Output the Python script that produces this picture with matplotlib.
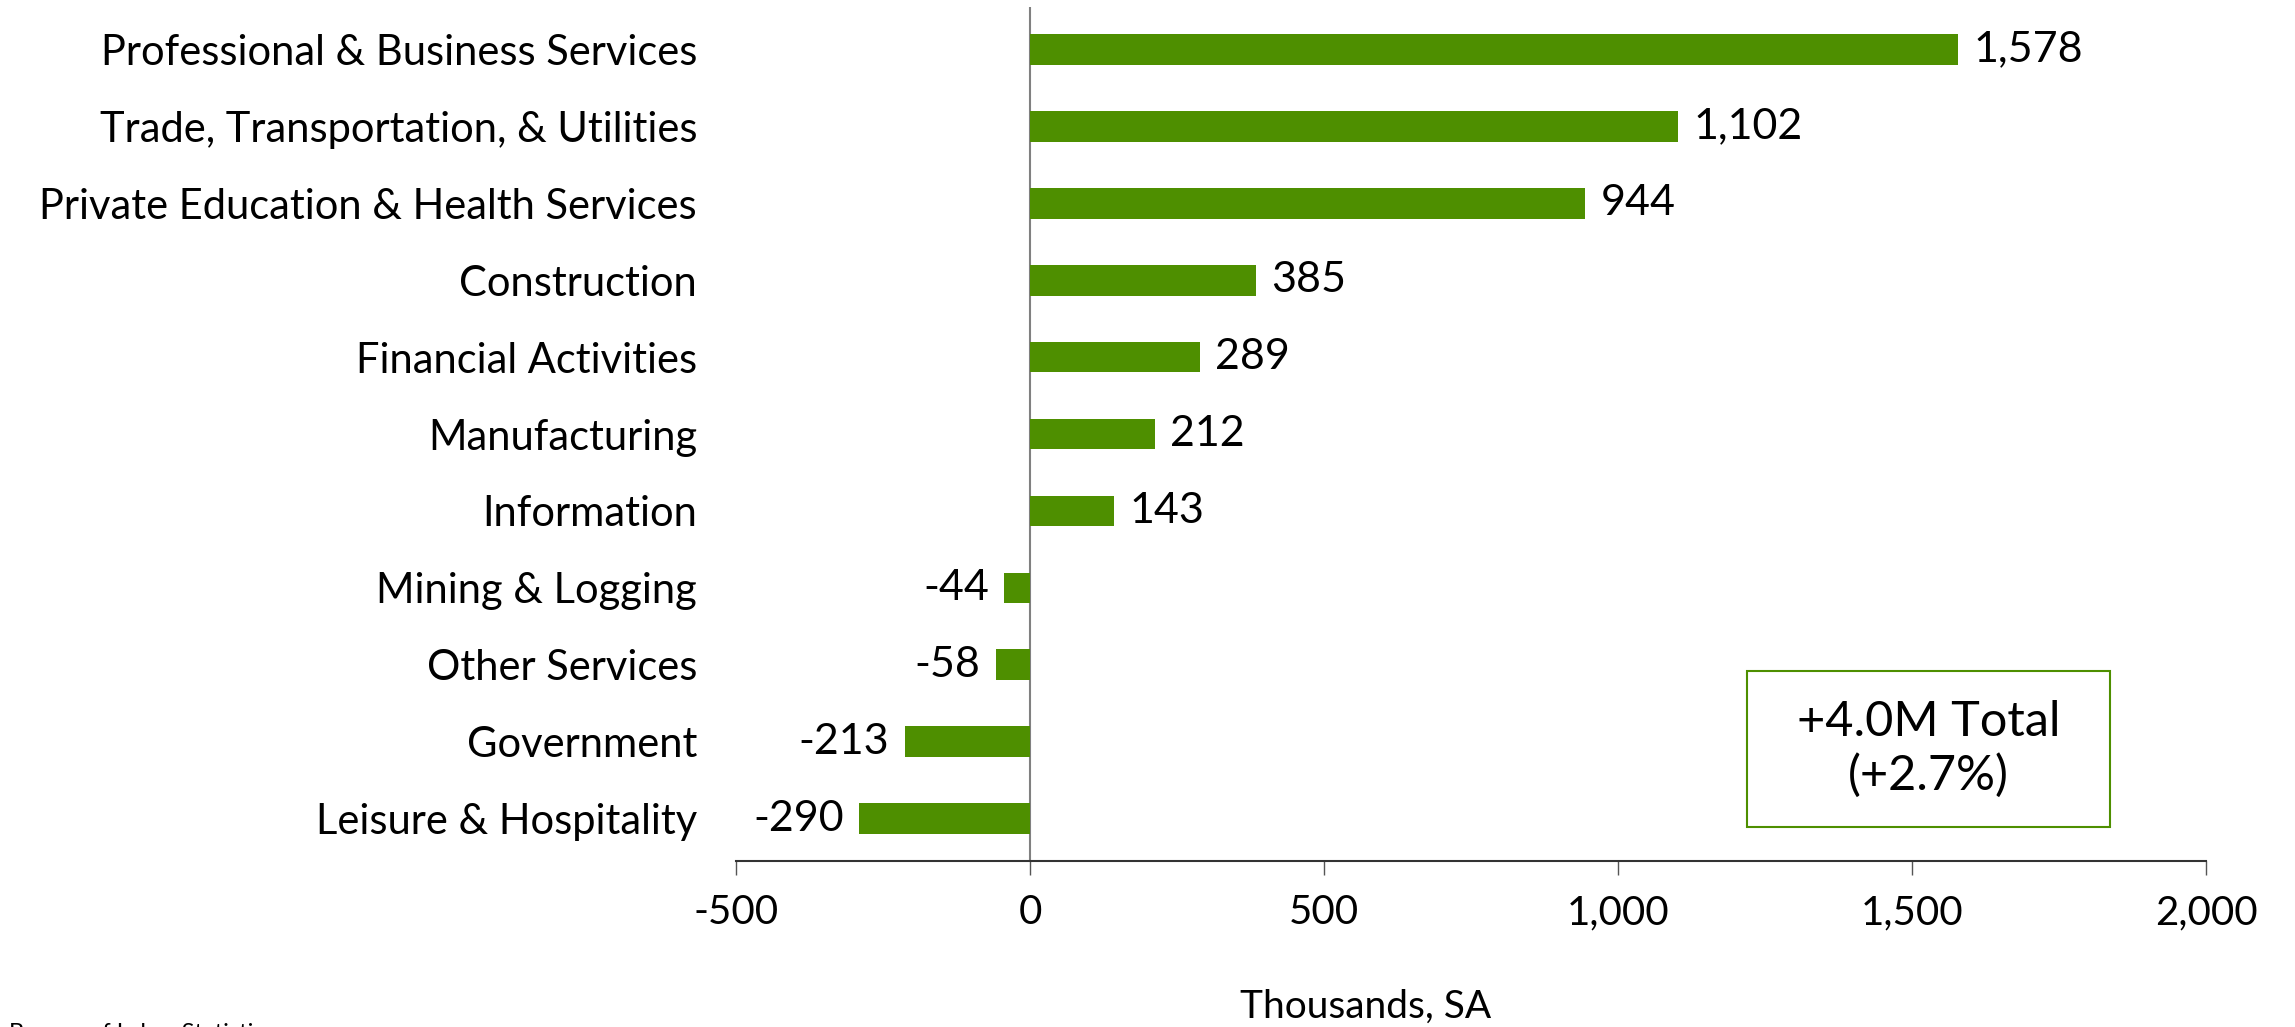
import matplotlib
matplotlib.use("Agg")
import matplotlib.pyplot as plt
from matplotlib.patches import Rectangle
from matplotlib.ticker import FuncFormatter

plt.rcParams['font.family'] = ['Lato', 'DejaVu Sans']

# job change by sector, thousands SA
sectors = ['Professional & Business Services',
           'Trade, Transportation, & Utilities',
           'Private Education & Health Services',
           'Construction',
           'Financial Activities',
           'Manufacturing',
           'Information',
           'Mining & Logging',
           'Other Services',
           'Government',
           'Leisure & Hospitality']
change = [1578, 1102, 944, 385, 289, 212, 143, -44, -58, -213, -290]
xticks = [-500, 0, 500, 1000, 1500, 2000]

green = '#4E8F00'

fig = plt.figure(figsize=(22.95, 10.27), dpi=100)
ax = fig.add_axes([0.3207, 0.1616, 0.6405, 0.8316])

ypos = list(range(len(sectors) - 1, -1, -1))
ax.barh(ypos, change, height=0.4, color=green)

for y, v in zip(ypos, change):
    txt = '{:,}'.format(v)
    if v >= 0:
        ax.annotate(txt, (v, y), xytext=(11, 0), textcoords='offset points',
                    ha='left', va='center', fontsize=31)
    else:
        ax.annotate(txt, (v, y), xytext=(-11, 0), textcoords='offset points',
                    ha='right', va='center', fontsize=31)

ax.set_xlim(-500, 2000)
ax.set_ylim(-0.55, 10.55)
ax.set_xticks(xticks)
ax.xaxis.set_major_formatter(FuncFormatter(lambda x, p: '{:,.0f}'.format(x)))
ax.set_yticks(ypos)
ax.set_yticklabels(sectors)

ax.tick_params(axis='y', length=0, pad=28, labelsize=30)
ax.tick_params(axis='x', length=10, width=1, color='#555555', pad=14, labelsize=29)

for s in ['top', 'right', 'left']:
    ax.spines[s].set_visible(False)
ax.spines['bottom'].set_color('#333333')
ax.spines['bottom'].set_linewidth(1.5)
ax.axvline(0, color='#808080', lw=1.5, zorder=0)

fig.text(0.595, 0.02, 'Thousands, SA', ha='center', va='center', fontsize=28)
fig.text(0.004, -0.006, 'Bureau of Labor Statistics', ha='left', va='center', fontsize=17)

# total box
ax.add_patch(Rectangle((0.688, 0.04), 0.247, 0.182, transform=ax.transAxes,
                       fc='white', ec=green, lw=1.5, zorder=3))
ax.text(0.8115, 0.131, '+4.0M Total\n(+2.7%)', transform=ax.transAxes,
        ha='center', va='center', fontsize=35, linespacing=1.25, zorder=4)

fig.savefig('out.png', dpi=100)
